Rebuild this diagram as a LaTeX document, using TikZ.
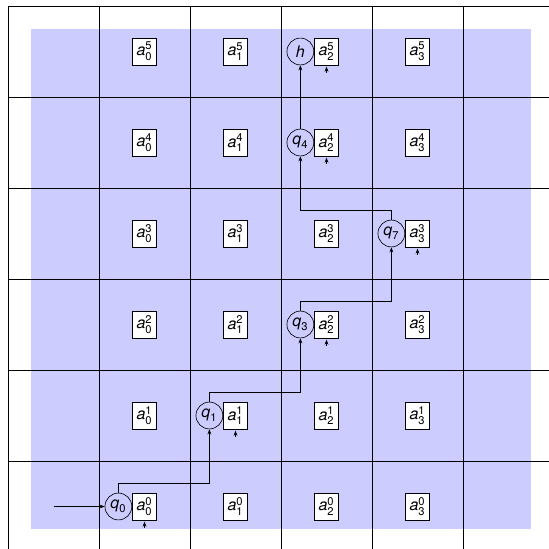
\documentclass[tikz,border=0pt]{standalone}
\usepackage{amsmath}
\usepackage{fontspec}
\setmainfont{TeX Gyre Heros}
\usepackage{tikz}
\usetikzlibrary{arrows.meta,positioning}

\begin{document}
\begin{tikzpicture}[
  font=\normalsize,
  cellbox/.style={draw, fill=white, minimum width=0.53cm,
                  minimum height=0.59cm, inner sep=1.5pt},
  state/.style={draw, circle, minimum size=0.59cm, inner sep=0pt},
  >={Stealth[length=3.2pt,width=2.4pt]}
]

%% --- frame and background ---
\useasboundingbox (-3.176,-0.934) rectangle (8.89,11.132);
\clip (-3.176,-0.934) rectangle (8.89,11.132);
\fill[blue!20] (-2.5,-0.5) rectangle (8.5,10.5);
\foreach \x in {-3,-1,...,7}
  \draw (\x,-2) -- (\x,11);
\foreach \y in {-1,1,...,11}
  \draw (-3,\y) -- (10,\y);

%% --- tape cells ---
\foreach \i in {0,...,3}
  \foreach \j in {0,...,5}
    \node[cellbox] (a\i\j) at (2*\i,2*\j)
      {$\textit{a}^{\text{\j}}_{\text{\i}}$};

%% --- states ---
\node[state, left=0pt of a00] (q0) {$\textit{q}_{\text{0}}$};
\node[state, left=0pt of a11] (q1) {$\textit{q}_{\text{1}}$};
\node[state, left=0pt of a22] (q3) {$\textit{q}_{\text{3}}$};
\node[state, left=0pt of a33] (q7) {$\textit{q}_{\text{7}}$};
\node[state, left=0pt of a24] (q4) {$\textit{q}_{\text{4}}$};
\node[state, left=0pt of a25] (h) {\textit{h}};

%% --- head marks ---
\foreach \c in {a00,a11,a22,a33,a24,a25}
  \draw[->] ([yshift=-0.17cm]\c.south) -- ([yshift=-0.03cm]\c.south);

%% --- run ---
\coordinate (start) at (-2,0);
\draw[->] (start) -- (q0);
\draw[->] (q0.north) -- ++(0,0.2) -| (q1.south);
\draw[->] (q1.north) -- ++(0,0.2) -| (q3.south);
\draw[->] (q3.north) -- ++(0,0.2) -| (q7.south);
\draw[->] (q7.north) -- ++(0,0.2) -| (q4.south);
\draw[->] (q4) -- (h);
\end{tikzpicture}
\end{document}
